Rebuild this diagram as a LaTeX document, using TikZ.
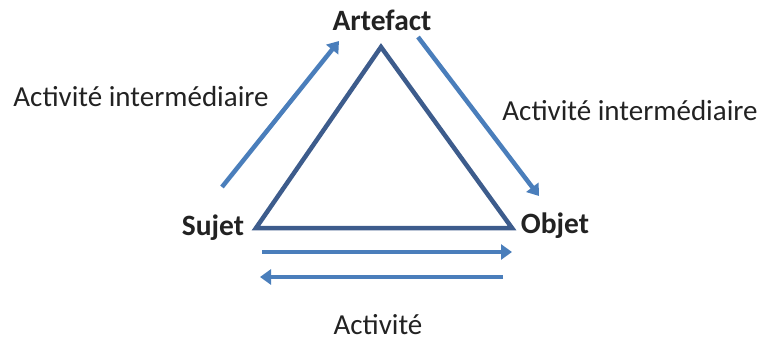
\documentclass[tikz,border=0pt]{standalone}
\usepackage{fontspec}
\setmainfont{Carlito}
\usetikzlibrary{arrows.meta}
\definecolor{tri}{HTML}{3D5C8C}
\definecolor{arr}{HTML}{4A7EBB}
\definecolor{txt}{HTML}{222222}
\begin{document}
\begin{tikzpicture}[x=1pt,y=-1pt,
  lbl/.style={text=txt,font=\fontsize{29}{32}\selectfont,inner sep=0pt},
  blbl/.style={lbl,font=\fontsize{29.5}{32}\selectfont\bfseries},
  flow/.style={arr,line width=4.5pt,-{Triangle[length=11pt,width=15pt]}}]
\useasboundingbox (0,0) rectangle (764,340);
\coordinate (A) at (381,47);
\coordinate (S) at (256,228);
\coordinate (O) at (512,228);
\draw[tri,line width=4.5pt,line join=miter] (A) -- (S) -- (O) -- cycle;
\node[blbl] (art) at (382,20) {Artefact};
\node[blbl] (suj) at (213,228) {Sujet};
\node[blbl] (obj) at (555,226) {Objet};
\node[lbl,anchor=base] (act) at (378,334) {Activité};
\node[lbl] (ai1) at (141,97) {Activité intermédiaire};
\node[lbl] (ai2) at (630,111) {Activité intermédiaire};
\coordinate (l1) at (222,187);
\coordinate (l2) at (339,41);
\coordinate (r1) at (418,37);
\coordinate (r2) at (539,196);
\coordinate (b1) at (262,252);
\coordinate (b2) at (512,252);
\coordinate (c1) at (503,277);
\coordinate (c2) at (260,277);
\draw[flow] (l1) -- (l2);
\draw[flow] (r1) -- (r2);
\draw[flow] (b1) -- (b2);
\draw[flow] (c1) -- (c2);
\end{tikzpicture}
\end{document}
